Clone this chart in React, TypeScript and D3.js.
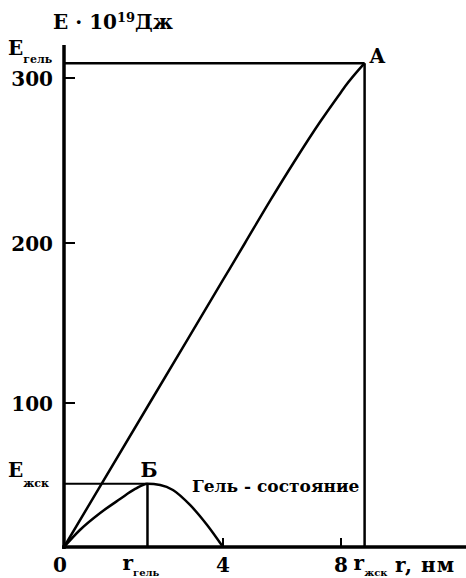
import React from "react";
import * as d3 from "d3";

// Energy vs. radius: chain line O–A and gel curve O–Б
const rTicks = [0, 4, 8];
const eTicks = [100, 200, 300];
const rGel = 2.1;
const rZhsk = 8.8;
const eGel = 309;
const eZhsk = 44;

// Line from origin to point A (r, E)
const lineR = [0, 2.156, 4, 4.746, 5.593, 6.441, 7.288, 8.0, 8.136, 8.8];
const lineE = [0, 100, 176.9, 200, 225.5, 250, 273.3, 291.4, 294.8, 309];

// Gel-state curve through point Б (r, E)
const gelR = [0, 0.4, 0.91, 1.41, 1.79, 2.1, 2.42, 2.74, 3.17, 3.6, 4.0];
const gelE = [0, 11.8, 23.6, 33.3, 40.3, 44, 43.1, 39.6, 29.2, 15.3, 0];

const W = 466;
const H = 578;
const FONT = "'DejaVu Serif', serif";

export default function App() {
  const x = d3.scaleLinear().domain([0, 4, 8]).range([64, 223, 341]);
  const y = d3.scaleLinear().domain([0, 100, 200, 300]).range([547, 403, 243, 78]);

  const lineGen = d3
    .line<[number, number]>()
    .x((d) => x(d[0]))
    .y((d) => y(d[1]))
    .curve(d3.curveMonotoneX);

  const oa = lineR.map((r, i) => [r, lineE[i]] as [number, number]);
  const gel = gelR.map((r, i) => [r, gelE[i]] as [number, number]);

  const x0 = x(0);
  const y0 = y(0);

  return (
    <svg
      width={W}
      height={H}
      style={{ position: "absolute", left: 0, top: 0, background: "#fff" }}
      fontFamily={FONT}
      fontWeight="bold"
    >
      {/* axes */}
      <line x1={x0} x2={x0} y1={45} y2={y0 + 2} stroke="#000" strokeWidth={3.5} />
      <line x1={x0 - 2} x2={W} y1={y0} y2={y0} stroke="#000" strokeWidth={3.5} />

      {/* y ticks */}
      {eTicks.map((t) => (
        <g key={t}>
          <line x1={x0} x2={x0 + 11} y1={y(t)} y2={y(t)} stroke="#000" strokeWidth={2} />
          <text x={53} y={y(t) + 7.5} fontSize={20} textAnchor="end">
            {t}
          </text>
        </g>
      ))}

      {/* x ticks */}
      {rTicks.map((t) => (
        <g key={t}>
          {t > 0 && (
            <line x1={x(t)} x2={x(t)} y1={y0} y2={y0 - 9} stroke="#000" strokeWidth={2} />
          )}
          <text x={x(t) - (t === 0 ? 4 : 0)} y={572} fontSize={20} textAnchor="middle">
            {t}
          </text>
        </g>
      ))}

      {/* reference lines */}
      <line x1={x0} x2={x(rZhsk)} y1={y(eGel)} y2={y(eGel)} stroke="#000" strokeWidth={2.5} />
      <line x1={x(rZhsk)} x2={x(rZhsk)} y1={y(eGel)} y2={y0} stroke="#000" strokeWidth={2.5} />
      <line x1={x0} x2={x(rGel)} y1={y(eZhsk)} y2={y(eZhsk)} stroke="#000" strokeWidth={2} />
      <line x1={x(rGel)} x2={x(rGel)} y1={y(eZhsk)} y2={y0} stroke="#000" strokeWidth={2.5} />

      {/* curves */}
      <path d={lineGen(oa) ?? ""} fill="none" stroke="#000" strokeWidth={2.5} />
      <path d={lineGen(gel) ?? ""} fill="none" stroke="#000" strokeWidth={2.5} />

      {/* axis titles */}
      <text x={53} y={29} fontSize={20}>
        E · 10
        <tspan fontSize={13} dy={-7}>19</tspan>
        <tspan dy={7}>Дж</tspan>
      </text>
      <text x={395} y={572} fontSize={20} letterSpacing={1}>
        r, нм
      </text>

      {/* level labels */}
      <text x={8} y={55} fontSize={20}>
        E
        <tspan fontSize={11} dy={8}>гель</tspan>
      </text>
      <text x={8} y={477} fontSize={20}>
        E
        <tspan fontSize={11} dy={10}>жск</tspan>
      </text>
      <text x={x(rGel) - 25} y={570} fontSize={20}>
        r
        <tspan fontSize={10} dy={6}>гель</tspan>
      </text>
      <text x={x(rZhsk) - 11} y={570} fontSize={20}>
        r
        <tspan fontSize={10} dy={6}>жск</tspan>
      </text>

      {/* point labels */}
      <text x={x(rZhsk) + 5} y={63} fontSize={20}>
        A
      </text>
      <text x={x(rGel) - 7} y={477} fontSize={20}>
        Б
      </text>
      <text x={192} y={492} fontSize={17}>
        Гель - состояние
      </text>
    </svg>
  );
}
